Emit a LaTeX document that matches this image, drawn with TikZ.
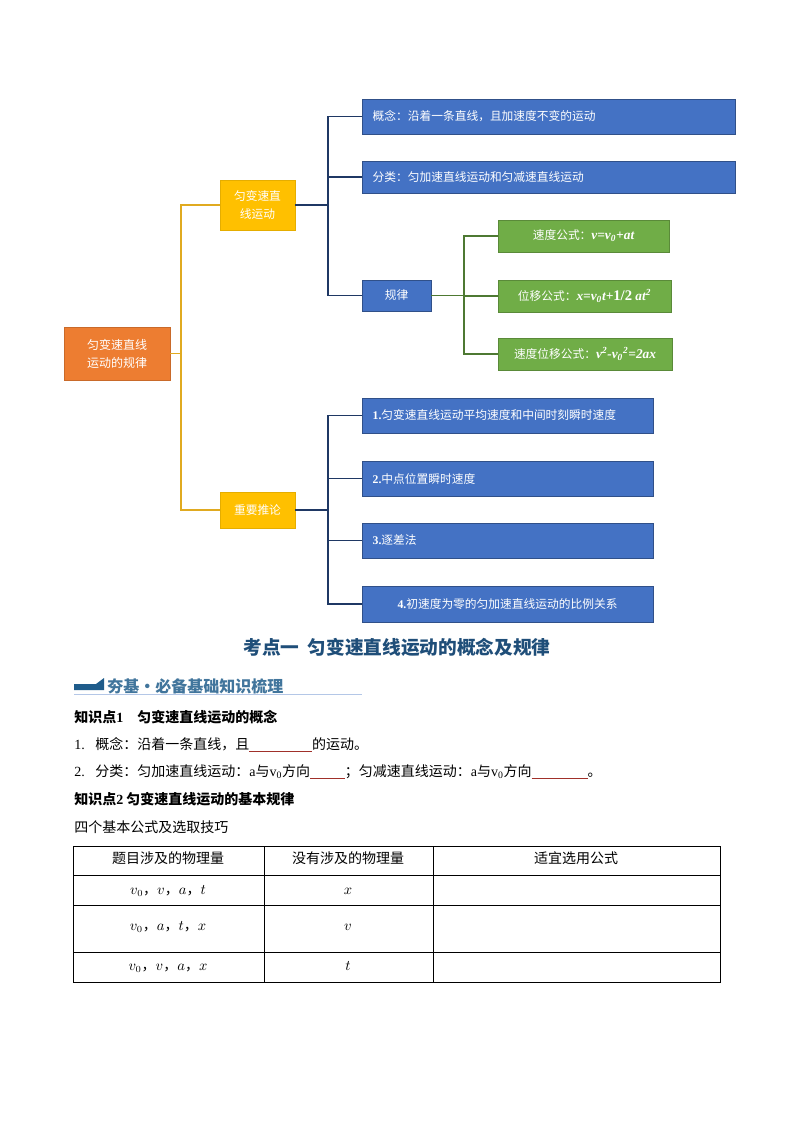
\documentclass[tikz,border=0pt]{standalone}
\usepackage{fontspec}
\setmainfont{Noto Sans CJK SC}
\newfontfamily\tms{Liberation Serif}
\usetikzlibrary{calc}
\definecolor{org}{HTML}{ED7D31}
\definecolor{ylw}{HTML}{FFC000}
\definecolor{ylink}{HTML}{E0AA20}
\definecolor{blu}{HTML}{4472C4}
\definecolor{grn}{HTML}{70AD47}
\definecolor{navy}{HTML}{1F3864}
\definecolor{ttl}{HTML}{1F4E79}
\definecolor{bnr}{HTML}{1F5C8B}
\definecolor{blank}{HTML}{A0302A}
\newcommand\blankline[1]{\textcolor{blank}{\rule[-2pt]{#1}{0.6pt}}}
\newcommand\fmx{\fontsize{10}{11}\selectfont\tms\bfseries\itshape}
\begin{document}
\begin{tikzpicture}[x=0.75pt,y=-0.75pt,
  box/.style={inner sep=0pt, text=white, font=\fontsize{8.8}{10}\selectfont},
  obox/.style={box, fill=org, draw=org!85!black, font=\fontsize{9}{13.5}\selectfont, align=center},
  ybox/.style={box, fill=ylw, draw=ylw!90!black, font=\fontsize{8.8}{14}\selectfont, align=center},
  bbox/.style={box, fill=blu, draw=blu!70!black},
  gbox/.style={box, fill=grn, draw=grn!80!black, minimum height=24pt, align=center},
  ylk/.style={draw=ylink, line width=0.9pt},
  nlink/.style={draw=navy, line width=0.8pt},
  glink/.style={draw=grn!70!black, line width=0.8pt},
  body/.style={anchor=base west, inner sep=0pt, font=\fontsize{10.5}{12}\selectfont},
  bodyb/.style={body, font=\fontsize{10.5}{12}\selectfont\bfseries},
  cell/.style={anchor=base, inner sep=0pt, font=\fontsize{10.5}{12}\selectfont}
]
\useasboundingbox (0,0) rectangle (794,1123);
\fill[white] (0,0) rectangle (794,1123);

% mind map boxes
\node[obox, minimum width=79.5pt, minimum height=39.75pt] (root) at (117,353.5) {匀变速直线\\运动的规律};
\node[ybox, minimum width=56.25pt, minimum height=37.5pt] (y1) at (257.5,205) {匀变速直\\线运动};
\node[ybox, minimum width=56.25pt, minimum height=27pt] (y2) at (257.5,510) {重要推论};

\node[bbox, text width=263.75pt, inner xsep=8pt, minimum height=26.25pt, align=left] (b1) at (548.5,116.5) {概念：沿着一条直线，且加速度不变的运动};
\node[bbox, text width=263.75pt, inner xsep=8pt, minimum height=24pt, align=left] (b2) at (548.5,177) {分类：匀加速直线运动和匀减速直线运动};
\node[bbox, minimum width=51.75pt, minimum height=23.25pt] (rule) at (396.5,295.5) {规律};

\node[gbox, minimum width=128.25pt] (g1) at (583.5,236) {速度公式：{\fmx v=v\textsubscript{0}+at}};
\node[gbox, minimum width=129.75pt] (g2) at (584.5,296) {位移公式：{\fmx x=v\textsubscript{0}t+{\upshape\fontsize{11}{12}\selectfont 1/2} at\textsuperscript{2}}};
\node[gbox, minimum width=130.5pt] (g3) at (585,354) {速度位移公式：{\fmx v\textsuperscript{2}-v\textsubscript{0}\textsuperscript{2}=2ax}};

\node[bbox, text width=202.25pt, inner xsep=8pt, minimum height=26.25pt, align=left] (d1) at (507.5,415.5) {\tms\bfseries 1.\rmfamily\mdseries 匀变速直线运动平均速度和中间时刻瞬时速度};
\node[bbox, text width=202.25pt, inner xsep=8pt, minimum height=26.25pt, align=left] (d2) at (507.5,478.5) {\tms\bfseries 2.\rmfamily\mdseries 中点位置瞬时速度};
\node[bbox, text width=202.25pt, inner xsep=8pt, minimum height=26.25pt, align=left] (d3) at (507.5,540.5) {\tms\bfseries 3.\rmfamily\mdseries 逐差法};
\node[bbox, text width=202.25pt, inner xsep=8pt, minimum height=27pt, align=center] (d4) at (507.5,604) {\tms\bfseries 4.\rmfamily\mdseries 初速度为零的匀加速直线运动的比例关系};

% connectors
\coordinate (j1) at (181,353.5);
\draw[ylk] (root.east) -- (j1) |- (y1.west);
\draw[ylk] (j1) |- (y2.west);
\coordinate (j2) at (328,205);
\draw[nlink] (y1.east) -- (j2) |- (b1.west);
\draw[nlink] (j2) |- (b2.west);
\draw[nlink] (j2) |- (rule.west);
\coordinate (j3) at (464,295.5);
\draw[glink] (rule.east) -- (j3) |- (g1.west);
\draw[glink] (j3) |- (g2.west);
\draw[glink] (j3) |- (g3.west);
\coordinate (j4) at (328,510);
\draw[nlink] (y2.east) -- (j4) |- (d1.west);
\draw[nlink] (j4) |- (d2.west);
\draw[nlink] (j4) |- (d3.west);
\draw[nlink] (j4) |- (d4.west);

% title
\node[font=\fontsize{14}{16}\selectfont\bfseries, text=ttl, inner sep=0pt] (title) at (397,647) {考点一\ \ 匀变速直线运动的概念及规律};

% banner
\fill[bnr] (74,684) -- (96,684) -- (104,678) -- (104,690) -- (74,690) -- cycle;
\draw[draw=blu!40, line width=0.6pt] (74,694) -- (362,694);
\node[anchor=west, inner sep=0pt, font=\fontsize{12}{14}\selectfont\bfseries, text=bnr!85!white] (banner) at (107,686) {夯基\textperiodcentered 必备基础知识梳理};

% body text
\node[bodyb] (k1) at (74,722) {知识点{\tms 1}\quad 匀变速直线运动的概念};
\node[body] (l1) at (74,749) {\tms 1.\hspace{8pt}\rmfamily 概念：沿着一条直线，且\blankline{47pt}的运动。};
\node[body] (l2) at (74,776) {\tms 2.\hspace{8pt}\rmfamily 分类：匀加速直线运动：{\tms a}与{\tms v\textsubscript{0}}方向\blankline{26pt}；匀减速直线运动：{\tms a}与{\tms v\textsubscript{0}}方向\blankline{42pt}。};
\node[bodyb] (k2) at (74,804) {知识点{\tms 2}\ 匀变速直线运动的基本规律};
\node[body] (l3) at (74,832) {四个基本公式及选取技巧};

% table
\draw[line width=0.6pt] (73,846) rectangle (720,982);
\draw[line width=0.6pt] (73,875) -- (720,875) (73,905) -- (720,905) (73,952) -- (720,952);
\draw[line width=0.6pt] (264,846) -- (264,982) (433,846) -- (433,982);
\node[cell] (h1) at (168,863) {题目涉及的物理量};
\node[cell] (h2) at (348,863) {没有涉及的物理量};
\node[cell] (h3) at (576,863) {适宜选用公式};
\node[cell] (r1a) at (168,894) {$v_0$，$v$，$a$，$t$};
\node[cell] (r1b) at (348,894) {$x$};
\node[cell] (r2a) at (168,930) {$v_0$，$a$，$t$，$x$};
\node[cell] (r2b) at (348,930) {$v$};
\node[cell] (r3a) at (168,970) {$v_0$，$v$，$a$，$x$};
\node[cell] (r3b) at (348,970) {$t$};
\end{tikzpicture}
\end{document}
